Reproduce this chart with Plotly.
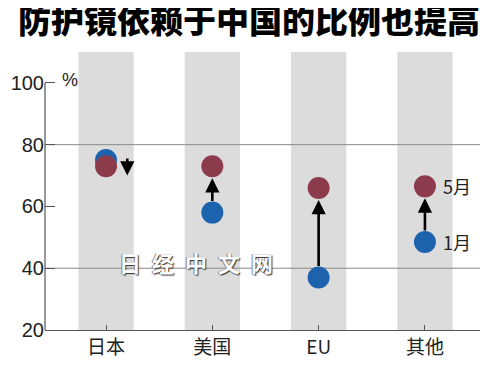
import plotly.graph_objects as go

categories = ["日本", "美国", "EU", "其他"]
jan_values = [75, 58, 37, 48.5]
may_values = [73, 73, 66, 66.5]
y_ticks = [20, 40, 60, 80, 100]
title_text = "防护镜依赖于中国的比例也提高"
jan_label = "1月"
may_label = "5月"
watermark = "日经中文网"

BLUE = "#1c62ad"
RED = "#8c3b4c"
BAND = "#dcdcdc"
GRID = "#8a8a8a"
CJK = "Noto Sans CJK SC"
NUM = "Liberation Sans, Arial, sans-serif"

xs = list(range(len(categories)))
fig = go.Figure()

shapes = []
for x in xs:
    shapes.append(dict(type="rect", xref="x", yref="paper", x0=x - 0.26, x1=x + 0.26,
                       y0=0, y1=1, fillcolor=BAND, line=dict(width=0), layer="below"))
for g in [80, 40]:
    shapes.append(dict(type="line", xref="paper", yref="y", x0=0, x1=1, y0=g, y1=g,
                       line=dict(color=GRID, width=1), layer="below"))
shapes.append(dict(type="line", xref="paper", yref="y", x0=0, x1=0, y0=20, y1=100,
                   line=dict(color="#555555", width=1.2)))

fig.add_trace(go.Scatter(x=xs, y=jan_values, mode="markers",
                         marker=dict(size=22, color=BLUE, line=dict(width=0)),
                         showlegend=False, hoverinfo="skip"))
fig.add_trace(go.Scatter(x=xs, y=may_values, mode="markers",
                         marker=dict(size=22, color=RED, line=dict(width=0)),
                         showlegend=False, hoverinfo="skip"))

annotations = []
for x, j, m in zip(xs, jan_values, may_values):
    if abs(m - j) < 5:
        annotations.append(dict(x=x + 0.2, y=m - 3, ax=x + 0.2, ay=j + 1,
                                xref="x", yref="y", axref="x", ayref="y",
                                showarrow=True, arrowhead=2, arrowsize=1.1,
                                arrowwidth=2.6, arrowcolor="black", text=""))
    else:
        annotations.append(dict(x=x, y=m, ax=x, ay=j,
                                xref="x", yref="y", axref="x", ayref="y",
                                showarrow=True, arrowhead=2, arrowsize=1.1,
                                arrowwidth=2.6, arrowcolor="black", text="",
                                standoff=12, startstandoff=10))

annotations.append(dict(x=xs[-1], y=may_values[-1], xref="x", yref="y", text=may_label,
                        showarrow=False, xanchor="left", xshift=16,
                        font=dict(family=CJK, size=18, color="#222")))
annotations.append(dict(x=xs[-1], y=jan_values[-1], xref="x", yref="y", text=jan_label,
                        showarrow=False, xanchor="left", xshift=16,
                        font=dict(family=CJK, size=18, color="#222")))
annotations.append(dict(x=0.034, y=100, xref="paper", yref="y", text="%",
                        showarrow=False, xanchor="left", yanchor="middle", yshift=3,
                        font=dict(family=NUM, size=18, color="#222")))
spaced = "\u2002".join(watermark)
annotations.append(dict(x=0.348, y=42, xref="paper", yref="y", text=spaced,
                        showarrow=False,
                        font=dict(family=CJK, size=22, color="white", weight="bold",
                                  shadow="1px 1px 1px #333, -1px 0px 0px #888")))

# the page body adds an 8px margin; the figure is sized to fit the 500x369 window
fig.update_layout(
    width=492, height=361,
    margin=dict(l=37, r=20, t=44, b=39),
    paper_bgcolor="white", plot_bgcolor="white",
    shapes=shapes, annotations=annotations,
    title=dict(text=title_text, x=0.49, xanchor="center", y=1, yanchor="top",
               pad=dict(t=2),
               font=dict(family=CJK, size=33, color="black", weight=900)),
    xaxis=dict(range=[-0.574, 3.518], tickvals=xs, ticktext=categories, automargin=False,
               showgrid=False, zeroline=False, showline=True, linecolor="#555555",
               linewidth=1.2, ticks="inside", ticklen=5, tickcolor="#555555",
               tickfont=dict(family=CJK, size=19, color="#222")),
    yaxis=dict(range=[20, 110], tickvals=y_ticks, showgrid=False, zeroline=False,
               automargin=False, showline=False, ticks="inside", ticklen=10,
               tickcolor="#555555",
               tickfont=dict(family=NUM, size=20, color="#222")),
)

fig.write_html("out.html")
